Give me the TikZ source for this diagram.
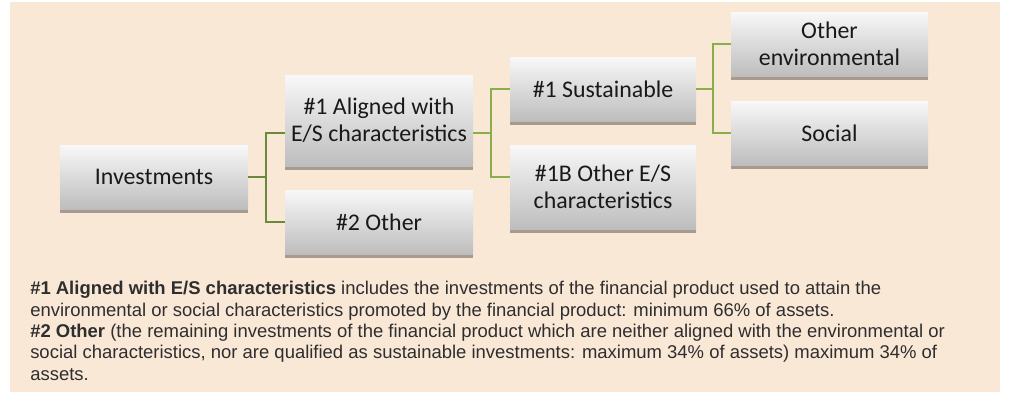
\documentclass[tikz,border=0pt]{standalone}
\usepackage{fontspec}
\setmainfont{Liberation Sans}
\newfontfamily\boxfont{Carlito}
\definecolor{bgc}{HTML}{FAE8D7}
\definecolor{shadowc}{HTML}{A89A8F}
\definecolor{boxtop}{HTML}{F8F8F8}
\definecolor{boxbot}{HTML}{BDBDBD}
\definecolor{lineA}{HTML}{6A8A3A}
\definecolor{lineB}{HTML}{8AAE4C}
\definecolor{txtc}{HTML}{2E2E2E}
\tikzset{
  ebox/.style={draw=none, top color=boxtop, bottom color=boxbot, inner sep=0pt,
    align=center, font=\boxfont\fontsize{17.9pt}{20.3pt}\selectfont, text=black!90},
  connA/.style={draw=lineA, line width=1.6pt},
  connB/.style={draw=lineB, line width=1.6pt},
}
\newcommand\mybox[6]{%
  \fill[shadowc] (#2,#5) rectangle (#4,#5+4);
  \node[ebox, minimum width={(#4-#2)*0.75pt}, minimum height={(#5-#3)*0.75pt}]
    (#1) at ({(#2+#4)/2},{(#3+#5)/2}) {#6};
}
\begin{document}
\begin{tikzpicture}[x=0.75pt,y=-0.75pt]
\useasboundingbox (0,0) rectangle (1011,393);
\fill[white] (0,0) rectangle (1011,393);
\fill[bgc] (10,2) rectangle (1000,392);
% boxes
\mybox{inv}{60}{145}{248}{209}{Investments}
\mybox{al}{285}{75}{473}{166}{\#1 Aligned with\\E/S characteristics}
\mybox{oth}{285}{190}{473}{254}{\#2 Other}
\mybox{sus}{510}{57}{696}{121}{\#1 Sustainable}
\mybox{ob}{510}{145}{696}{229}{\#1B Other E/S\\characteristics}
\mybox{env}{731}{12}{928}{76}{Other\\environmental}
\mybox{soc}{731}{101}{928}{165}{Social}
% junction coordinates
\coordinate (j1) at (266,177);
\coordinate (alin) at (285,133);
\coordinate (alout) at (473,133);
\coordinate (j2) at (491,133);
\coordinate (obin) at (510,177);
\coordinate (j3) at (713,89);
% connectors
\draw[connA] (inv.east |- j1) -- (j1);
\draw[connA] (j1) |- (alin);
\draw[connA] (j1) |- (oth.west);
\draw[connB] (alout) -- (j2);
\draw[connB] (j2) |- (sus.west);
\draw[connB] (j2) |- (obin);
\draw[connB] (sus.east) -- (j3);
\draw[connB] (j3) |- (env.west);
\draw[connB] (j3) |- (soc.west);
% caption
\node[anchor=base west, inner sep=0pt, align=left, text=txtc,
  font=\fontsize{13.85pt}{16pt}\selectfont] (cap) at (30,380)
  {\textbf{\#1 Aligned with E/S characteristics} includes the investments of the financial product used to attain the\\
   environmental or social characteristics promoted by the financial product: minimum 66\% of assets.\\
   \textbf{\#2 Other} (the remaining investments of the financial product which are neither aligned with the environmental or\\
   social characteristics, nor are qualified as sustainable investments: maximum 34\% of assets) maximum 34\% of\\
   assets.};
\end{tikzpicture}
\end{document}
